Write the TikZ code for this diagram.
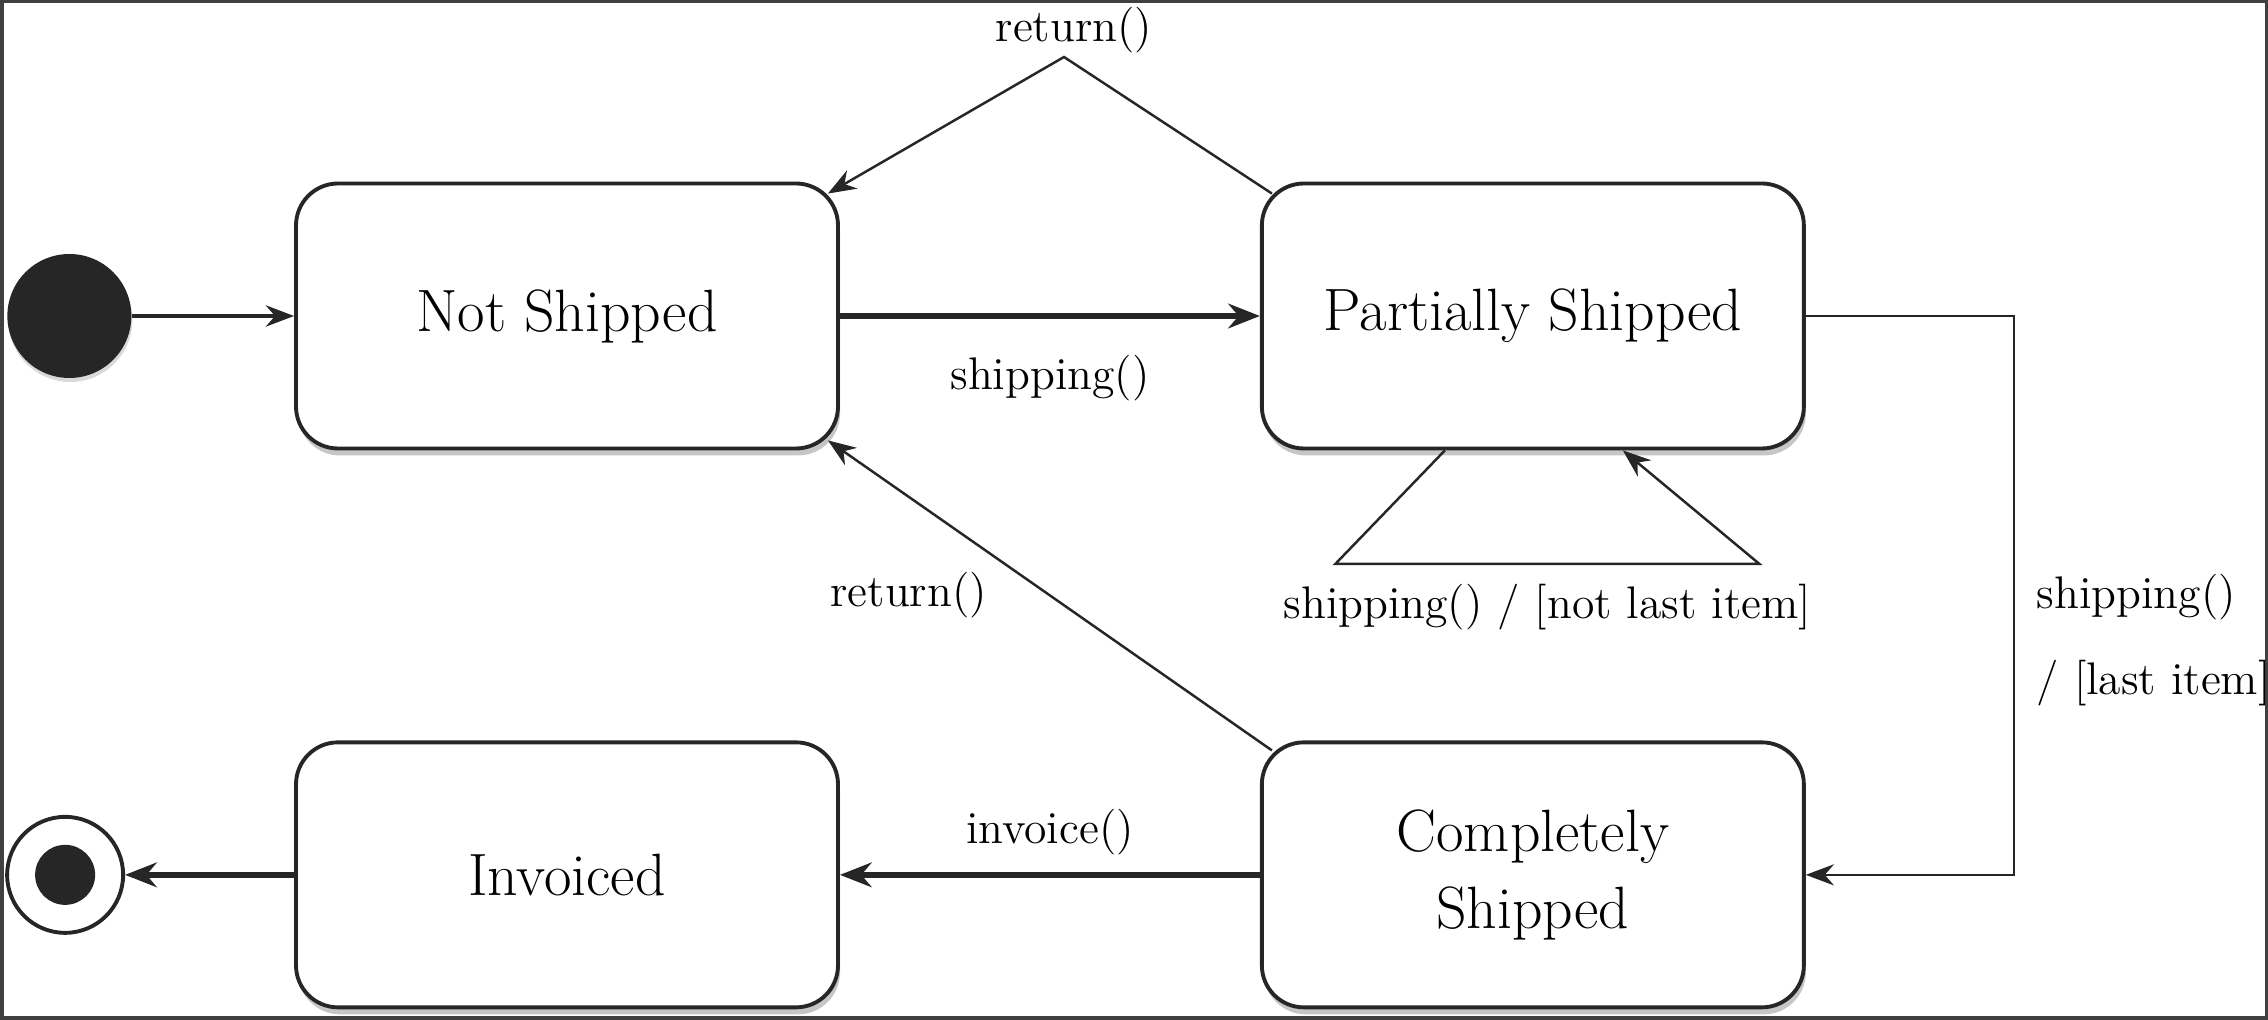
\documentclass[tikz,border=0pt]{standalone}
\usepackage{tikz}
\tikzset{
    sbox/.style={draw=black!85, rectangle, rounded corners=0.42cm, line width=1.1pt, fill=white, minimum width=5.42cm, minimum height=2.65cm, inner sep=2pt, align=center, font=\fontsize{17}{22}\selectfont, drop shadow={shadow xshift=0.02cm, shadow yshift=-0.07cm, opacity=0.45}},
    pinit/.style={circle, fill=black!85, minimum size=1.24cm, inner sep=0pt, drop shadow={shadow xshift=0.01cm, shadow yshift=-0.04cm, opacity=0.3}},
    pfinal/.style={circle, draw=black!85, line width=1.1pt, fill=white, minimum size=1.16cm, inner sep=0pt},
    pfinaldot/.style={circle, fill=black!85, minimum size=0.6cm, inner sep=0pt},
    lbl/.style={font=\fontsize{13}{16}\selectfont},
    trthick/.style={-{Stealth[length=9pt, width=7pt]}, line width=1.6pt, draw=black!85},
    trmid/.style={-{Stealth[length=8pt, width=6pt]}, line width=1.3pt, draw=black!85},
    trthin/.style={-{Stealth[length=8pt, width=6pt]}, line width=0.7pt, draw=black!85},
    pageframe/.style={draw=black!75, line width=0.035cm} }
\usetikzlibrary{calc, positioning, shadows, arrows.meta}

\begin{document}
\begin{tikzpicture}
    \useasboundingbox (0,0) rectangle (22.68,-10.2);
    \draw[pageframe] (0.0175,-0.0175) rectangle (22.6625,-10.1825);
    % states
    \node[sbox] (ns) at (5.67,-3.16) {Not Shipped};
    \node[sbox, right=4.2cm of ns] (ps) {Partially Shipped};
    \node[sbox, below=2.9cm of ps] (cs) {Completely\\Shipped};
    \node[sbox, left=4.2cm of cs] (inv) {Invoiced};
    \node[pinit, left=1.62cm of ns] (start) {};
    \node[pfinal, left=1.69cm of inv] (fin) {};
    \node[pfinaldot] (findot) at (fin) {};
    % ----
    \coordinate (rapex) at (10.64,-0.57);
    \coordinate (loopl) at ($(ps.south)+(-1.975,-1.135)$);
    \coordinate (loopr) at ($(ps.south)+(2.265,-1.135)$);
    \coordinate (lastc) at ($(ps.east)+(2.08,0)$);

    \draw[trmid] (start) -- (ns);
    \draw[trthick] (ns) -- node[lbl, below=0.25cm] (lship) {shipping()} (ps);

    \draw[trthin] ($(ps.north west)+(0.12,-0.12)$) -- (rapex) -- ($(ns.north east)+(-0.12,-0.12)$);
    \node[lbl, above=-0.08cm of rapex, xshift=0.1cm] (lret) {return()};

    \draw[trthin] ($(cs.north west)+(0.12,-0.1)$) -- node[lbl, left=0.5cm] (lback) {return()} ($(ns.south east)+(-0.12,0.1)$);

    \draw[trthin] ($(ps.south)+(-0.88,0)$) -- (loopl) -- node[lbl, below=0.07cm] (lloop) {shipping() / [not last item]} (loopr) -- ($(ps.south)+(0.9,0)$);

    \draw[trthin] (ps.east) -- (lastc) |- node[lbl, pos=0.29, right=0.1cm, align=left] (llast) {shipping()\\[8.7pt]/ [last item]} (cs.east);

    \draw[trthick] (cs) -- node[lbl, above=0.05cm] (linv) {invoice()} (inv);
    \draw[trthick] (inv) -- (fin);
\end{tikzpicture}
\end{document}
